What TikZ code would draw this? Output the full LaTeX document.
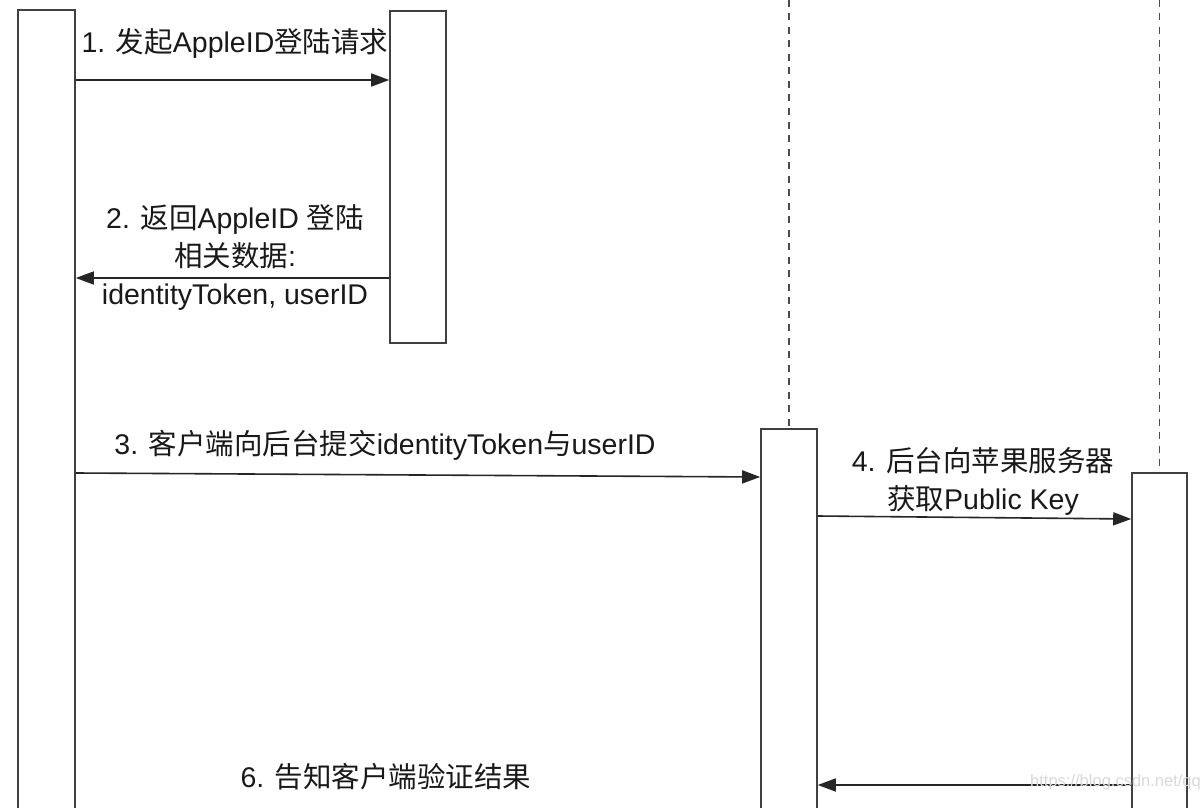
\documentclass[tikz,border=0pt]{standalone}
\usepackage{fontspec}
\setmainfont{Liberation Sans}
\newfontfamily\cjk{Noto Sans CJK SC}
\newcommand{\zh}[1]{{\cjk #1}}
\usetikzlibrary{arrows.meta}

\begin{document}
\begin{tikzpicture}[x = 1pt, y = -1pt]
\tikzstyle{BoxStyle}=[shape = rectangle,
                      inner sep = 0pt,
                      line width = 1.6pt,
                      draw = black!75]
\tikzstyle{MsgStyle}=[line width = 1.6pt,
                      draw = black!85,
                      -{Triangle[length = 18pt, width = 13pt]}]
\tikzstyle{LifeStyle}=[line width = 1.6pt,
                       draw = black!70,
                       dash pattern = on 7pt off 6.5pt]
\tikzstyle{LabelStyle}=[align = center,
                        inner sep = 0pt,
                        text = black!90,
                        font = \fontsize{28.5}{38}\selectfont]
\useasboundingbox[fill = white] (0,0) rectangle (1203,808);
\node[BoxStyle, minimum width = 57pt, minimum height = 830pt] (b0) at (46.5,425) {};
\node[BoxStyle, minimum width = 56pt, minimum height = 332pt] (b1) at (418,177) {};
\node[BoxStyle, minimum width = 56pt, minimum height = 411pt] (b2) at (789,634.5) {};
\node[BoxStyle, minimum width = 55pt, minimum height = 367pt] (b3) at (1159.5,656.5) {};
\coordinate (t2) at (789,0);
\coordinate (t3) at (1159.5,0);
\draw[LifeStyle] (t2) -- (b2.north);
\draw[LifeStyle] (t3) -- (b3.north);
\draw[MsgStyle] (b0.east |- 0,80) -- (b1.west |- 0,80);
\draw[MsgStyle] (b1.west |- 0,278) -- (b0.east |- 0,278);
\draw[MsgStyle] (b0.east |- 0,473) -- (b2.west |- 0,477);
\draw[MsgStyle] (b2.east |- 0,516) -- (b3.west |- 0,519);
\draw[MsgStyle] (b3.west |- 0,785) -- (b2.east |- 0,785);
\node[LabelStyle] (l1) at (235,43) {1. \zh{发起}AppleID\zh{登陆请求}};
\node[LabelStyle] (l2) at (235,258) {2. \zh{返回}AppleID \zh{登陆}\\\zh{相关数据}:\\identityToken, userID};
\node[LabelStyle] (l3) at (385,445) {3. \zh{客户端向后台提交}identityToken\zh{与}userID};
\node[LabelStyle] (l4) at (983,481) {4. \zh{后台向苹果服务器}\\\zh{获取}Public Key};
\node[LabelStyle] (l6) at (386,777) {6. \zh{告知客户端验证结果}};
\node[LabelStyle, anchor = west, text = black!15, font = \fontsize{16.5}{20}\selectfont] (wm) at (1030,782) {https://blog.csdn.net/qq};
\end{tikzpicture}
\end{document}
